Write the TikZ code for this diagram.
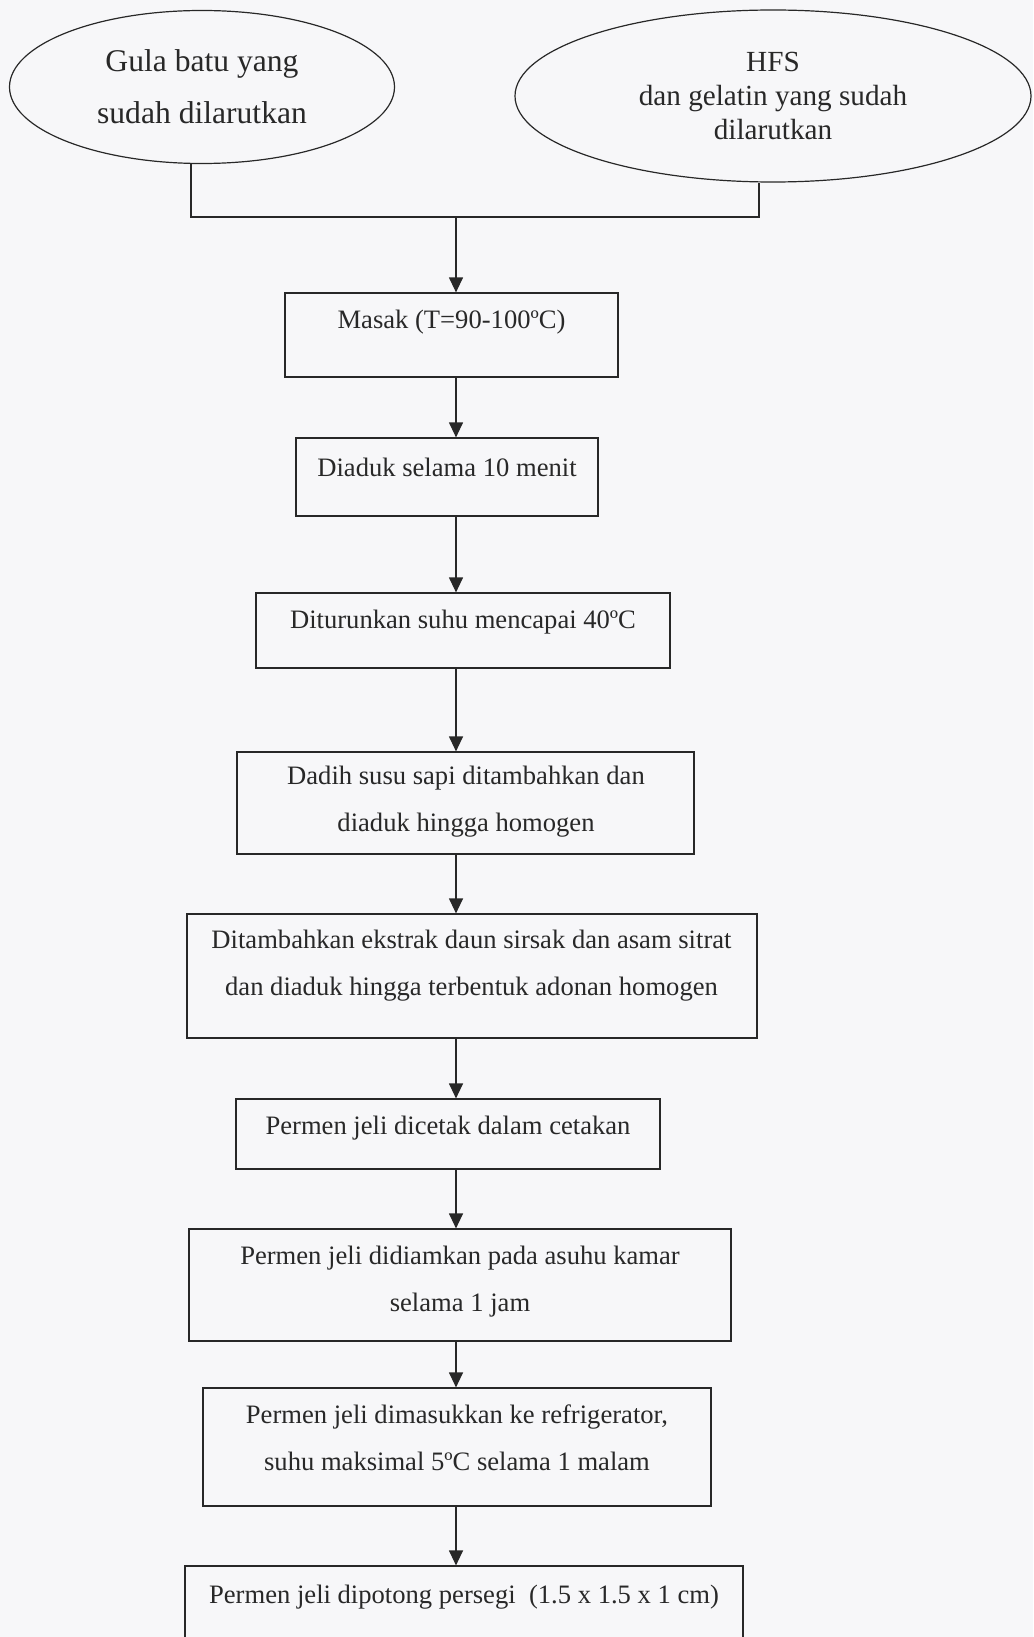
\documentclass[tikz,border=0pt]{standalone}
\usepackage{fontspec}
\setmainfont{Liberation Serif}
\usetikzlibrary{arrows.meta,shapes.geometric}
\definecolor{ink}{RGB}{40,40,40}
\definecolor{paper}{RGB}{247,247,249}
\begin{document}
\begin{tikzpicture}[x=0.5pt,y=-0.5pt,
  box/.style={draw=ink, line width=0.6pt, rectangle, inner sep=0pt},
  oval/.style={draw=ink, line width=0.6pt, ellipse, inner sep=0pt, align=center, text=ink},
  flow/.style={draw=ink, line width=0.6pt, -{Triangle[length=7.5pt,width=7pt]}},
  link/.style={draw=ink, line width=0.6pt},
  btxt/.style={font=\fontsize{13.3}{23.5}\selectfont, text=ink, align=center, inner sep=0pt}
]
\fill[paper] (0,0) rectangle (1033,1637);
\useasboundingbox (0,0) rectangle (1033,1637);
\clip (0,0) rectangle (1033,1637);

% sources
\node[oval, minimum width=192.5pt, minimum height=76.5pt,
      font=\fontsize{15.8}{26}\selectfont] (e1) at (202,87)
      {Gula batu yang\\sudah dilarutkan};
\node[oval, minimum width=258pt, minimum height=86pt,
      font=\fontsize{14.6}{17}\selectfont] (e2) at (773,96)
      {HFS\\dan gelatin yang sudah\\dilarutkan};

\coordinate (j) at (456,217);
\coordinate (ax) at (456,0);

% process boxes
\node[box, minimum width=166.5pt, minimum height=42pt]   (b1) at (451.5,335) {};
\node[box, minimum width=151pt,   minimum height=39pt]   (b2) at (447,477) {};
\node[box, minimum width=207pt,   minimum height=37.5pt] (b3) at (463,630.5) {};
\node[box, minimum width=228.5pt, minimum height=51pt]   (b4) at (465.5,803) {};
\node[box, minimum width=285pt,   minimum height=62pt]   (b5) at (472,976) {};
\node[box, minimum width=212pt,   minimum height=35pt]   (b6) at (448,1134) {};
\node[box, minimum width=271pt,   minimum height=56pt]   (b7) at (460,1285) {};
\node[box, minimum width=254pt,   minimum height=59pt]   (b8) at (457,1447) {};
\node[box, minimum width=279pt,   minimum height=57pt]   (b9) at (464,1623) {};

% texts
\node[btxt] (t1) at (451.5,322) {Masak (T=90-100ºC)};
\node[btxt] (t2) at (447,467) {Diaduk selama 10 menit};
\node[btxt] (t3) at (463,622) {Diturunkan suhu mencapai 40ºC};
\node[btxt] (t4) at (466,802) {Dadih susu sapi ditambahkan dan\\diaduk hingga homogen};
\node[btxt] (t5) at (471.5,966) {Ditambahkan ekstrak daun sirsak dan asam sitrat\\dan diaduk hingga terbentuk adonan homogen};
\node[btxt] (t6) at (448,1128) {Permen jeli dicetak dalam cetakan};
\node[btxt] (t7) at (460,1282) {Permen jeli didiamkan pada asuhu kamar\\selama 1 jam};
\node[btxt] (t8) at (457,1438) {Permen jeli dimasukkan ke refrigerator,\\suhu maksimal 5ºC selama 1 malam};
\node[btxt] (t9) at (464,1597) {Permen jeli dipotong persegi\ \ (1.5 x 1.5 x 1 cm)};

% connectors
\draw[link] ([xshift=-5.5pt]e1.south) |- (j) -| ([xshift=-7pt]e2.south);
\draw[flow] (j) -- (b1.north -| ax);
\draw[flow] (b1.south -| ax) -- (b2.north -| ax);
\draw[flow] (b2.south -| ax) -- (b3.north -| ax);
\draw[flow] (b3.south -| ax) -- (b4.north -| ax);
\draw[flow] (b4.south -| ax) -- (b5.north -| ax);
\draw[flow] (b5.south -| ax) -- (b6.north -| ax);
\draw[flow] (b6.south -| ax) -- (b7.north -| ax);
\draw[flow] (b7.south -| ax) -- (b8.north -| ax);
\draw[flow] (b8.south -| ax) -- (b9.north -| ax);
\end{tikzpicture}
\end{document}
